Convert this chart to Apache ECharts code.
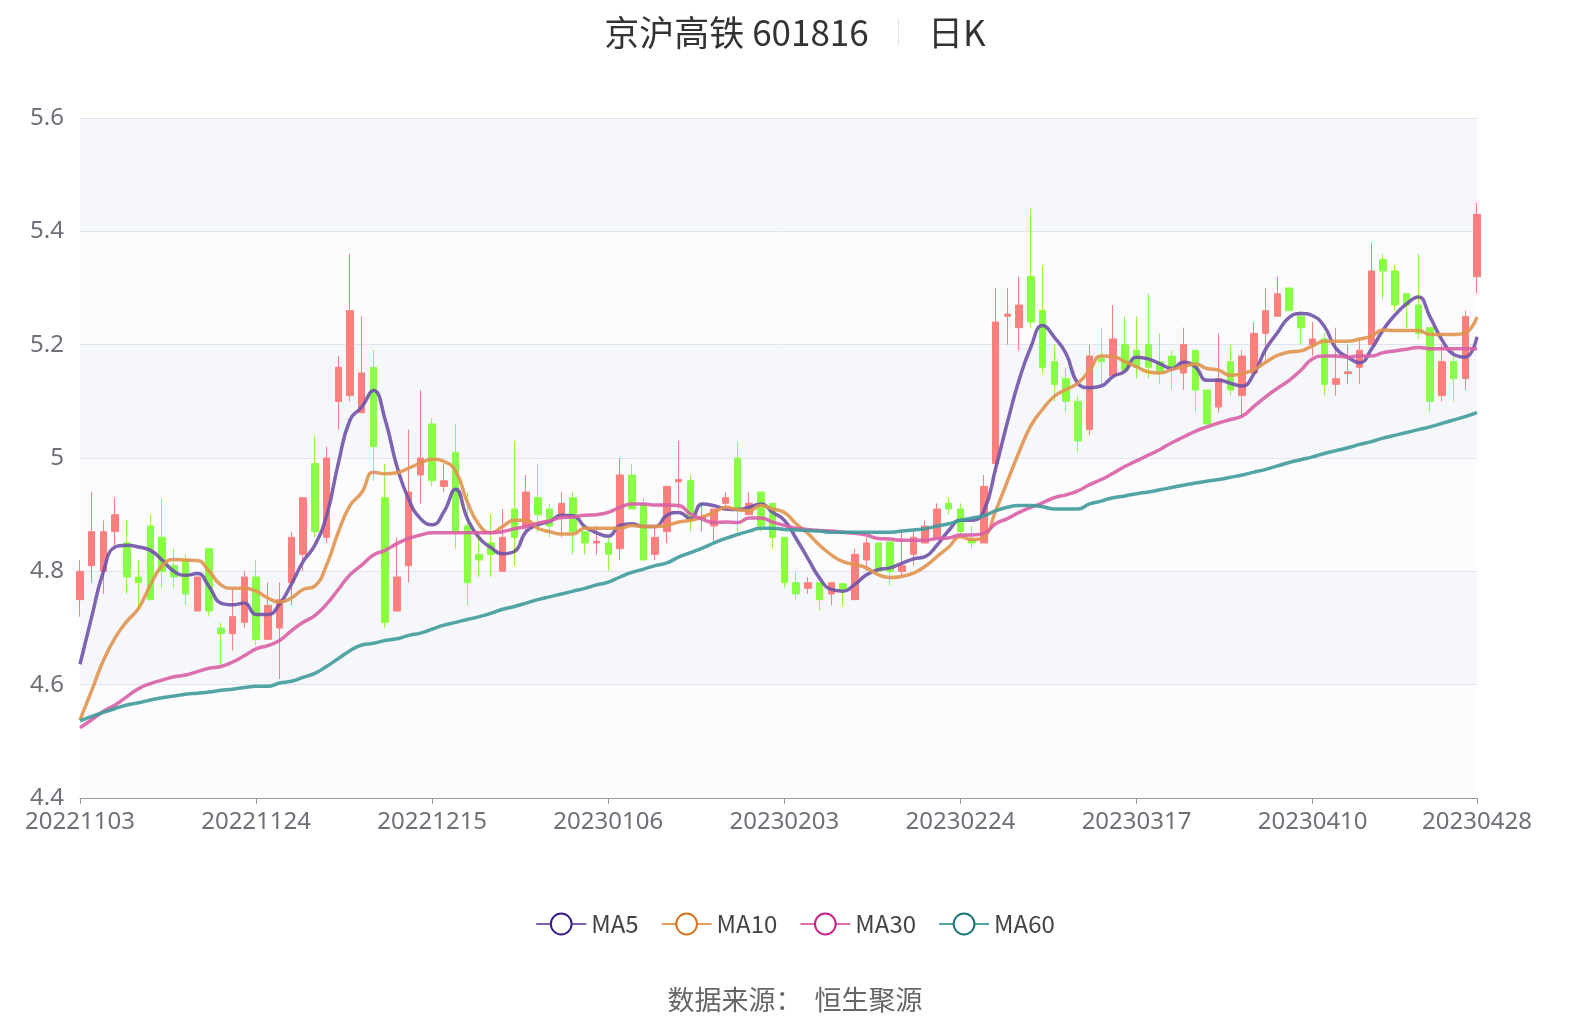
<!DOCTYPE html>
<html><head><meta charset="utf-8">
<script src="https://cdn.jsdelivr.net/npm/echarts@6/dist/echarts.min.js"></script>
<style>html,body{margin:0;padding:0;background:#fff}#c{width:1590px;height:1034px}</style>
</head><body><div id="c"></div>
<script>
const dates = ["20221103","20221104","20221107","20221108","20221109","20221110","20221111","20221114","20221115","20221116","20221117","20221118","20221121","20221122","20221123","20221124","20221125","20221128","20221129","20221130",
"20221201","20221202","20221205","20221206","20221207","20221208","20221209","20221212","20221213","20221214","20221215","20221216","20221219","20221220","20221221","20221222","20221223","20221226","20221227","20221228","20221229","20221230",
"20230103","20230104","20230105","20230106","20230109","20230110","20230111","20230112","20230113","20230116","20230117","20230118","20230119","20230120","20230130","20230131",
"20230201","20230202","20230203","20230206","20230207","20230208","20230209","20230210","20230213","20230214","20230215","20230216","20230217","20230220","20230221","20230222","20230223","20230224","20230227","20230228",
"20230301","20230302","20230303","20230306","20230307","20230308","20230309","20230310","20230313","20230314","20230315","20230316","20230317","20230320","20230321","20230322","20230323","20230324","20230327","20230328","20230329","20230330","20230331",
"20230403","20230404","20230406","20230407","20230410","20230411","20230412","20230413","20230414","20230417","20230418","20230419","20230420","20230421","20230424","20230425","20230426","20230427","20230428"];
// [open, close, low, high]
const kline = [
[4.75,4.80,4.72,4.82],[4.81,4.87,4.78,4.94],[4.80,4.87,4.76,4.89],[4.87,4.90,4.84,4.93],[4.85,4.79,4.76,4.89],
[4.79,4.78,4.73,4.82],[4.88,4.75,4.75,4.90],[4.86,4.80,4.77,4.93],[4.81,4.79,4.77,4.84],[4.82,4.76,4.74,4.83],
[4.73,4.79,4.73,4.79],[4.84,4.73,4.72,4.84],[4.70,4.69,4.63,4.71],[4.69,4.72,4.66,4.77],[4.71,4.79,4.70,4.80],
[4.79,4.68,4.67,4.82],[4.68,4.74,4.68,4.78],[4.70,4.75,4.61,4.78],[4.78,4.86,4.74,4.87],[4.83,4.93,4.80,4.93],
[4.99,4.87,4.86,5.04],[4.86,5.00,4.85,5.02],[5.10,5.16,5.05,5.18],[5.11,5.26,5.10,5.36],[5.08,5.15,5.08,5.25],
[5.16,5.02,4.96,5.19],[4.93,4.71,4.70,4.99],[4.73,4.79,4.73,4.86],[4.81,4.94,4.78,5.05],[4.97,5.00,4.92,5.12],
[5.06,4.96,4.95,5.07],[4.95,4.96,4.94,4.99],[5.01,4.87,4.84,5.06],[4.88,4.78,4.74,4.94],[4.83,4.82,4.79,4.87],
[4.85,4.83,4.79,4.90],[4.80,4.86,4.80,4.91],[4.91,4.86,4.81,5.03],[4.88,4.94,4.87,4.97],[4.93,4.90,4.87,4.99],
[4.91,4.88,4.86,4.92],[4.90,4.92,4.86,4.94],[4.93,4.87,4.83,4.94],[4.87,4.85,4.83,4.87],[4.850,4.853,4.83,4.88],
[4.85,4.83,4.80,4.86],[4.84,4.97,4.82,5.00],[4.97,4.91,4.91,4.99],[4.92,4.82,4.82,4.93],[4.83,4.86,4.82,4.88],
[4.87,4.95,4.85,4.95],[4.958,4.962,4.91,5.03],[4.96,4.89,4.87,4.97],[4.893,4.896,4.87,4.92],[4.88,4.91,4.85,4.91],
[4.92,4.93,4.91,4.94],[5.00,4.91,4.87,5.03],[4.90,4.92,4.90,4.94],[4.94,4.88,4.87,4.94],[4.92,4.86,4.84,4.92],
[4.86,4.78,4.77,4.86],[4.78,4.76,4.75,4.80],[4.77,4.78,4.76,4.79],[4.78,4.75,4.73,4.78],[4.76,4.78,4.74,4.78],
[4.778,4.766,4.74,4.78],[4.75,4.83,4.75,4.84],[4.82,4.85,4.80,4.86],[4.85,4.80,4.80,4.85],[4.852,4.80,4.775,4.852],
[4.80,4.81,4.79,4.87],[4.83,4.86,4.81,4.87],[4.85,4.88,4.85,4.89],[4.86,4.91,4.86,4.92],[4.92,4.91,4.90,4.93],
[4.91,4.87,4.86,4.92],[4.856,4.85,4.84,4.88],[4.85,4.95,4.85,4.97],[4.99,5.24,4.98,5.30],[5.25,5.254,5.20,5.30],
[5.23,5.27,5.19,5.32],[5.32,5.24,5.23,5.44],[5.26,5.16,5.15,5.34],[5.17,5.13,5.10,5.20],[5.14,5.10,5.08,5.16],
[5.10,5.03,5.01,5.11],[5.05,5.18,5.04,5.20],[5.175,5.17,5.13,5.23],[5.145,5.21,5.145,5.27],[5.20,5.155,5.15,5.25],
[5.19,5.16,5.14,5.25],[5.20,5.16,5.14,5.29],[5.17,5.15,5.13,5.22],[5.18,5.16,5.12,5.19],[5.15,5.20,5.12,5.23],
[5.19,5.12,5.08,5.19],[5.12,5.06,5.06,5.12],[5.09,5.14,5.08,5.22],[5.17,5.12,5.11,5.20],[5.11,5.18,5.07,5.19],
[5.15,5.22,5.15,5.24],[5.22,5.26,5.17,5.30],[5.25,5.29,5.25,5.32],[5.30,5.26,5.26,5.30],[5.25,5.23,5.20,5.26],
[5.20,5.21,5.18,5.24],[5.21,5.13,5.11,5.22],[5.13,5.14,5.11,5.23],[5.149,5.152,5.13,5.20],[5.16,5.19,5.13,5.21],
[5.20,5.33,5.20,5.38],[5.35,5.33,5.28,5.36],[5.33,5.27,5.26,5.34],[5.29,5.27,5.23,5.29],[5.27,5.22,5.21,5.36],
[5.23,5.10,5.08,5.23],[5.11,5.17,5.10,5.20],[5.17,5.14,5.10,5.19],[5.14,5.25,5.12,5.26],[5.32,5.43,5.29,5.45]];
const ma5 = [4.636,4.72,4.80,4.843,4.846,4.843,4.837,4.82,4.80,4.793,4.796,4.773,4.744,4.741,4.744,4.724,4.724,4.742,4.777,4.817,
4.846,4.898,4.99,5.067,5.09,5.119,5.067,4.985,4.927,4.893,4.882,4.905,4.945,4.893,4.859,4.842,4.831,4.835,4.87,4.882,
4.888,4.899,4.898,4.879,4.868,4.862,4.881,4.884,4.879,4.879,4.899,4.904,4.893,4.919,4.916,4.91,4.909,4.913,4.919,4.904,
4.89,4.858,4.823,4.788,4.768,4.765,4.777,4.794,4.803,4.806,4.814,4.822,4.826,4.846,4.872,4.89,4.89,4.907,4.982,5.063,
5.138,5.196,5.234,5.213,5.184,5.132,5.124,5.127,5.144,5.153,5.178,5.175,5.166,5.158,5.169,5.161,5.137,5.137,5.132,5.127,
5.149,5.192,5.221,5.248,5.255,5.251,5.232,5.193,5.178,5.168,5.192,5.226,5.252,5.272,5.284,5.249,5.209,5.183,5.178,5.214];
const ma10 = [4.538,4.59,4.643,4.683,4.712,4.735,4.776,4.81,4.821,4.82,4.819,4.80,4.776,4.77,4.77,4.765,4.753,4.746,4.753,4.768,
4.774,4.811,4.869,4.916,4.939,4.975,4.972,4.974,4.982,4.991,4.998,4.994,4.977,4.922,4.882,4.868,4.879,4.89,4.89,4.876,
4.87,4.866,4.866,4.876,4.876,4.876,4.876,4.881,4.879,4.879,4.881,4.887,4.89,4.896,4.904,4.913,4.909,4.907,4.916,4.91,
4.904,4.884,4.867,4.846,4.829,4.817,4.812,4.806,4.794,4.789,4.791,4.797,4.809,4.826,4.843,4.861,4.856,4.861,4.907,4.959,
5.011,5.057,5.086,5.109,5.121,5.132,5.155,5.18,5.179,5.17,5.161,5.152,5.15,5.156,5.161,5.166,5.158,5.155,5.146,5.149,
5.156,5.169,5.181,5.187,5.189,5.198,5.206,5.206,5.206,5.21,5.215,5.226,5.225,5.225,5.225,5.218,5.218,5.218,5.221,5.249];
const ma30 = [4.524,4.538,4.553,4.564,4.579,4.593,4.602,4.608,4.614,4.617,4.623,4.629,4.632,4.64,4.651,4.663,4.669,4.678,4.695,4.71,
4.722,4.742,4.768,4.794,4.811,4.829,4.837,4.849,4.858,4.864,4.868,4.868,4.868,4.868,4.868,4.868,4.87,4.875,4.879,4.885,
4.889,4.895,4.896,4.899,4.9,4.904,4.913,4.919,4.919,4.917,4.917,4.916,4.901,4.892,4.886,4.887,4.886,4.894,4.894,4.887,
4.881,4.876,4.874,4.872,4.871,4.869,4.867,4.864,4.858,4.857,4.855,4.855,4.855,4.858,4.859,4.864,4.864,4.867,4.884,4.893,
4.904,4.913,4.921,4.93,4.935,4.942,4.953,4.962,4.973,4.985,4.995,5.005,5.015,5.027,5.037,5.047,5.055,5.062,5.068,5.074,
5.091,5.108,5.123,5.137,5.155,5.175,5.18,5.18,5.178,5.18,5.18,5.186,5.189,5.192,5.195,5.193,5.193,5.193,5.193,5.193];
const ma60 = [4.536,4.544,4.551,4.558,4.564,4.568,4.573,4.577,4.58,4.583,4.585,4.587,4.59,4.592,4.595,4.597,4.597,4.603,4.606,4.613,
4.62,4.632,4.646,4.66,4.67,4.673,4.678,4.681,4.687,4.691,4.698,4.705,4.71,4.715,4.72,4.726,4.733,4.738,4.744,4.75,
4.755,4.76,4.765,4.77,4.776,4.781,4.79,4.798,4.804,4.81,4.815,4.825,4.833,4.841,4.85,4.858,4.865,4.871,4.876,4.876,
4.874,4.873,4.872,4.871,4.869,4.869,4.869,4.869,4.869,4.869,4.871,4.873,4.875,4.88,4.884,4.89,4.894,4.898,4.907,4.913,
4.916,4.916,4.914,4.91,4.91,4.91,4.919,4.924,4.93,4.933,4.937,4.94,4.944,4.948,4.952,4.956,4.959,4.962,4.966,4.97,
4.975,4.98,4.986,4.992,4.997,5.002,5.008,5.013,5.018,5.024,5.029,5.035,5.04,5.045,5.05,5.055,5.061,5.067,5.073,5.08];
const maNames = ["MA5","MA10","MA30","MA60"];
const maColors = ["#3a1c87","#d9731b","#c81e86","#1b7474"];
const maLines = ["#7052a8","#e0944f","#d95fa6","#409b9b"];

const last = dates.length - 1;
const showIdx = (i) => i % 15 === 0 || i === last;
const chart = echarts.init(document.getElementById('c'));
const maData = [ma5, ma10, ma30, ma60];
chart.setOption({
  animation: false,
  title: [{
    text: '京沪高铁 601816  {sep|│}  日K', left: 'center', top: 10,
    textStyle: {fontSize: 35, fontWeight: 'normal', color: '#333', fontFamily: 'Noto Sans CJK SC',
      rich: {sep: {color: '#e5e5e5', fontSize: 28}}}
  }, {
    text: '数据来源：  恒生聚源', left: 'center', top: 981,
    textStyle: {fontSize: 27, fontWeight: 'normal', color: '#666', fontFamily: 'Noto Sans CJK SC'}
  }],
  legend: {
    data: maNames, bottom: 93, left: 'center', itemWidth: 50, itemHeight: 26, itemGap: 22,
    textStyle: {fontSize: 24, color: '#444', fontFamily: 'Noto Sans CJK SC'}
  },
  grid: {left: 80, right: 113, top: 118, bottom: 236},
  xAxis: {
    type: 'category', data: dates, boundaryGap: false,
    axisLine: {lineStyle: {color: '#999'}},
    axisTick: {interval: (i) => showIdx(i), length: 6, lineStyle: {color: '#999'}},
    axisLabel: {interval: (i) => showIdx(i), fontSize: 24, color: '#6e7079', margin: 12, fontFamily: 'Noto Sans'},
    splitLine: {show: false}
  },
  yAxis: {
    type: 'value', min: 4.4, max: 5.6, interval: 0.2, scale: true,
    axisLine: {show: false}, axisTick: {show: false},
    axisLabel: {fontSize: 24, color: '#6e7079', margin: 16, fontFamily: 'Noto Sans'},
    splitLine: {lineStyle: {color: '#e0e4f0'}},
    splitArea: {show: true, areaStyle: {color: ['#fcfcfe', '#f5f7fb']}}
  },
  series: [{
    type: 'candlestick', data: kline, barWidth: 7,
    itemStyle: {color: '#ff7f7f', color0: '#88ff44', borderColor: '#ff7f7f', borderColor0: '#88ff44', borderWidth: 1}
  }].concat(maNames.map((n, k) => ({
    name: n, type: 'line', data: maData[k], smooth: true, symbol: 'emptyCircle', symbolSize: 22, showSymbol: false,
    itemStyle: {color: maColors[k], borderWidth: 3.5},
    lineStyle: {color: maLines[k], width: 3.5, opacity: 0.9}
  })))
});
</script></body></html>
